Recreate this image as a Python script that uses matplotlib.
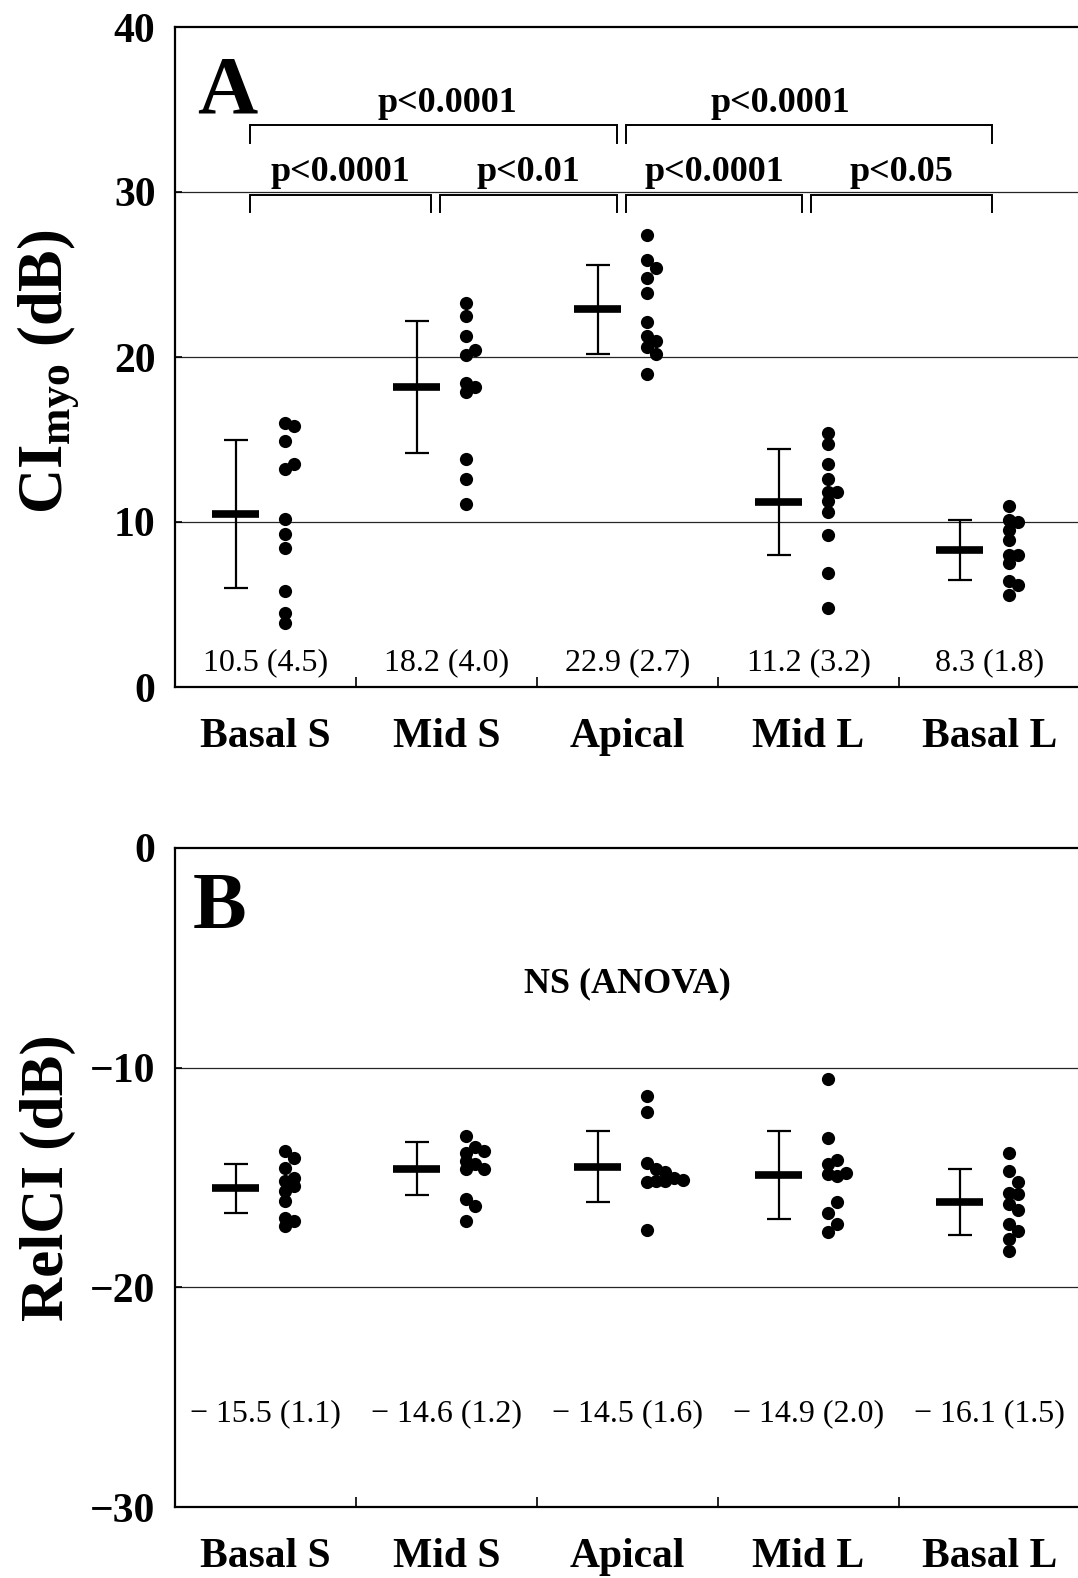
import matplotlib
matplotlib.use('Agg')
import matplotlib.pyplot as plt
import numpy as np

plt.rcParams['font.family'] = ['Liberation Serif', 'DejaVu Serif']
plt.rcParams['mathtext.fontset'] = 'custom'
plt.rcParams['mathtext.rm'] = 'Liberation Serif:bold'
plt.rcParams['mathtext.it'] = 'Liberation Serif:italic:bold'
plt.rcParams['mathtext.bf'] = 'Liberation Serif:bold'
plt.rcParams['axes.unicode_minus'] = True

# ---------------- data ----------------
categories = ['Basal S', 'Mid S', 'Apical', 'Mid L', 'Basal L']

ci_mean = [10.5, 18.2, 22.9, 11.2, 8.3]
ci_sd = [4.5, 4.0, 2.7, 3.2, 1.8]

ci_basal_s = [16.0, 15.8, 14.9, 13.5, 13.2, 10.2, 9.3, 8.4, 5.8, 4.5, 3.9]
ci_mid_s = [23.3, 22.5, 21.3, 20.4, 20.1, 18.4, 18.2, 17.9, 13.8, 12.6, 11.1]
ci_apical = [27.4, 25.9, 25.4, 24.8, 23.9, 22.1, 21.3, 21.0, 20.6, 20.2, 19.0]
ci_mid_l = [15.4, 14.7, 13.5, 12.6, 11.8, 11.8, 11.3, 10.6, 9.2, 6.9, 4.8]
ci_basal_l = [11.0, 10.1, 10.0, 9.5, 8.9, 8.0, 8.0, 7.5, 6.4, 6.2, 5.6]

rel_mean = [-15.5, -14.6, -14.5, -14.9, -16.1]
rel_sd = [1.1, 1.2, 1.6, 2.0, 1.5]

rel_basal_s = [-13.8, -14.1, -14.55, -15.0, -15.15, -15.4, -15.6, -16.05, -16.85, -17.0, -17.2]
rel_mid_s = [-13.1, -13.6, -13.8, -13.9, -14.25, -14.4, -14.6, -14.6, -16.0, -16.3, -17.0]
rel_apical = [-11.3, -12.0, -14.35, -14.6, -14.75, -15.2, -15.15, -15.15, -15.0, -15.1, -17.4]
rel_mid_l = [-10.5, -13.2, -14.4, -14.2, -14.85, -14.95, -14.8, -16.1, -16.6, -17.1, -17.5]
rel_basal_l = [-13.9, -14.7, -15.2, -15.7, -15.75, -16.2, -16.5, -17.1, -17.45, -17.8, -18.35]

# horizontal shift (in columns) of overlapping dots
ci_shift = [
    [0, 1, 0, 1, 0, 0, 0, 0, 0, 0, 0],
    [0, 0, 0, 1, 0, 0, 1, 0, 0, 0, 0],
    [0, 0, 1, 0, 0, 0, 0, 1, 0, 1, 0],
    [0, 0, 0, 0, 0, 1, 0, 0, 0, 0, 0],
    [0, 0, 1, 0, 0, 0, 1, 0, 0, 1, 0],
]
rel_shift = [
    [0, 1, 0, 1, 0, 1, 0, 0, 0, 1, 0],
    [0, 1, 2, 0, 0, 1, 2, 0, 0, 1, 0],
    [0, 0, 0, 1, 2, 0, 1, 2, 3, 4, 0],
    [0, 0, 0, 1, 0, 1, 2, 1, 0, 1, 0],
    [0, 0, 1, 0, 1, 0, 1, 0, 1, 0, 0],
]

ci_dots = [ci_basal_s, ci_mid_s, ci_apical, ci_mid_l, ci_basal_l]
rel_dots = [rel_basal_s, rel_mid_s, rel_apical, rel_mid_l, rel_basal_l]

ci_labels = ['10.5 (4.5)', '18.2 (4.0)', '22.9 (2.7)', '11.2 (3.2)', '8.3 (1.8)']
rel_labels = ['\u2212 15.5 (1.1)', '\u2212 14.6 (1.2)', '\u2212 14.5 (1.6)', '\u2212 14.9 (2.0)', '\u2212 16.1 (1.5)']

# significance brackets: (from category, to category, level, text)
brackets = [(0, 1, 0, 'p<0.0001'), (1, 2, 0, 'p<0.01'), (2, 3, 0, 'p<0.0001'),
            (3, 4, 0, 'p<0.05'), (0, 2, 1, 'p<0.0001'), (2, 4, 1, 'p<0.0001')]

# ---------------- figure ----------------
W, H = 1078, 1578
fig = plt.figure(figsize=(W / 100, H / 100), dpi=100)
axA = fig.add_axes([175 / W, 1 - 687 / H, 905 / W, 660 / H])
axB = fig.add_axes([175 / W, 1 - 1507 / H, 905 / W, 659 / H])

ERR_X = 0.335
DOT_X = 0.605
STEP = 0.05


def draw_panel(ax, means, sds, dots, shifts, ylim, yticks, grid, labels, label_y):
    n = len(categories)
    ax.set_xlim(0, n)
    ax.set_ylim(*ylim)
    for g in grid:
        ax.axhline(g, color='0.15', lw=0.9, zorder=1)
    for k in range(n):
        xe = k + ERR_X
        ax.errorbar([xe], [means[k]], yerr=[sds[k]], fmt='none', ecolor='black',
                    elinewidth=1.6, capsize=8.5, capthick=1.6, zorder=3)
        ax.hlines(means[k], xe - 0.13, xe + 0.13, color='black', lw=5.5, zorder=4)
        xs = [k + DOT_X + STEP * s for s in shifts[k]]
        ax.plot(xs, dots[k], 'o', color='black', ms=9.5, mew=0, zorder=5)
        ax.text(k + 0.5, label_y, labels[k], ha='center', va='center',
                fontsize=23, color='black')
    ax.set_xticks([k + 0.5 for k in range(n)])
    ax.set_xticklabels(categories, fontsize=30, fontweight='bold')
    ax.tick_params(axis='x', which='major', length=0, pad=22)
    ax.set_xticks(list(range(1, n)), minor=True)
    ax.tick_params(axis='x', which='minor', direction='in', length=7, width=1.2)
    ax.set_yticks(yticks)
    ax.set_yticklabels([('\u2212' + str(abs(t))) if t < 0 else str(t) for t in yticks],
                       fontsize=30, fontweight='bold')
    ax.tick_params(axis='y', direction='in', length=5, width=1.2, pad=14)
    for side in ['left', 'bottom', 'top', 'right']:
        ax.spines[side].set_linewidth(1.6)


draw_panel(axA, ci_mean, ci_sd, ci_dots, ci_shift, (0, 40), [0, 10, 20, 30, 40],
           [10, 20, 30], ci_labels, 1.5)
draw_panel(axB, rel_mean, rel_sd, rel_dots, rel_shift, (-30, 0), [0, -10, -20, -30],
           [-10, -20], rel_labels, -25.75)

# brackets in panel A
anchors = [k + 0.415 + 0.025 * k for k in range(5)]
level_y = [(29.8, 28.8, 31.2), (34.05, 33.0, 35.35)]
for (i, j, lev, txt) in brackets:
    x0 = anchors[i] + (0.025 if i > 0 else 0)
    x1 = anchors[j] - (0.025 if j < 4 else 0)
    top, bot, ty = level_y[lev]
    axA.plot([x0, x0, x1, x1], [bot, top, top, bot], color='black', lw=1.4,
             solid_joinstyle='miter', zorder=3)
    xc = (x0 + x1) / 2
    if lev == 1:
        xc = xc + (0.08 if i == 0 else -0.16)
    axA.text(xc, ty, txt, ha='center', va='center', fontsize=26, fontweight='bold')

axA.text(0.12, 36.0, 'A', ha='left', va='center', fontsize=60, fontweight='bold')
axB.text(0.1, -2.75, 'B', ha='left', va='center', fontsize=58, fontweight='bold')
axB.text(2.5, -6.2, 'NS (ANOVA)', ha='center', va='center', fontsize=26, fontweight='bold')

fig.text(48 / W, 1 - 372 / H, r'CI$_{\mathrm{myo}}$ (dB)', rotation=90, ha='center',
         va='center', fontsize=45, fontweight='bold')
fig.text(48 / W, 1 - 1178 / H, 'RelCI (dB)', rotation=90, ha='center',
         va='center', fontsize=44, fontweight='bold')

fig.savefig('out.png', dpi=100)
